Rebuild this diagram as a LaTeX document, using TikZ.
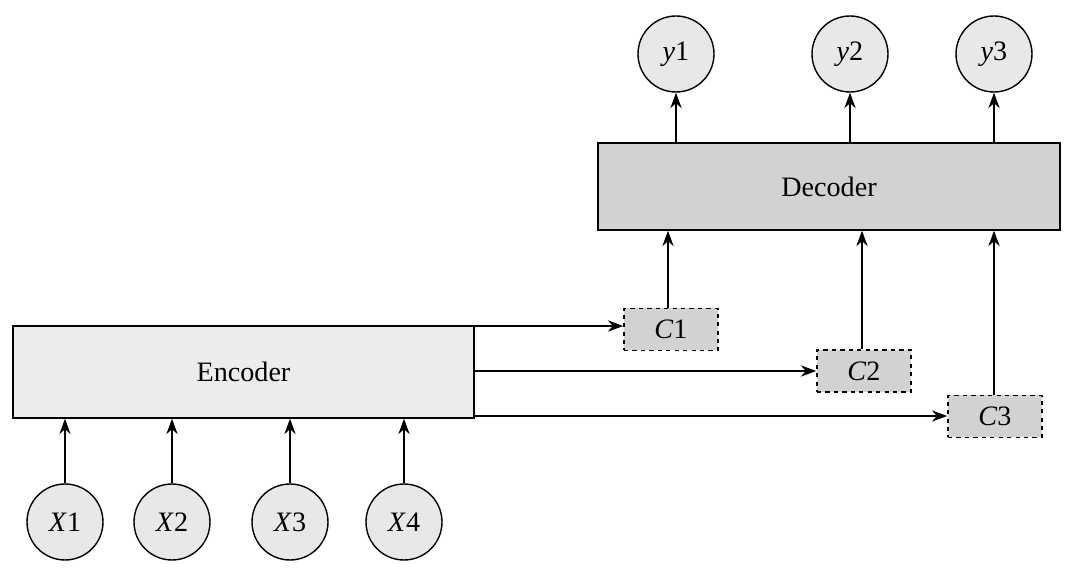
\documentclass[tikz,border=0pt]{standalone}
\usepackage{fontspec}
\setmainfont{Liberation Serif}
\usetikzlibrary{arrows.meta}
\begin{document}
\begin{tikzpicture}[x=0.025cm,y=-0.025cm,
  every node/.style={font=\fontsize{20}{24}\selectfont},
  circ/.style={circle,draw,line width=1pt,fill=gray!18,minimum size=76*0.025cm,inner sep=0pt},
  cbox/.style={draw,dashed,line width=1pt,fill=gray!35,minimum width=94*0.025cm,minimum height=42*0.025cm,inner sep=0pt},
  arr/.style={-{Stealth[length=11pt,width=8pt]},line width=1pt}]
\useasboundingbox (0,0) rectangle (1073,576);
\node[draw,line width=1pt,fill=gray!15,minimum width=461*0.025cm,minimum height=92*0.025cm] (enc) at (243.5,372) {Encoder};
\node[draw,line width=1pt,fill=gray!35,minimum width=462*0.025cm,minimum height=87*0.025cm] (dec) at (829,186.5) {Decoder};
\foreach \i/\x in {1/65,2/172,3/290,4/404}{
  \node[circ] (x\i) at (\x,522) {\textit{X}\i};
  \draw[arr] (x\i) -- (x\i|-enc.south);
}
\foreach \i/\x in {1/676,2/850,3/994}{
  \node[circ] (y\i) at (\x,54) {\textit{y}\i};
  \draw[arr] (dec.north-|y\i) -- (y\i);
}
\node[cbox] (c1) at (671,329.5) {\textit{C}1};
\node[cbox] (c2) at (864,371) {\textit{C}2};
\node[cbox] (c3) at (995,416.5) {\textit{C}3};
\coordinate (e1) at (474,326);
\coordinate (e2) at (474,371);
\coordinate (e3) at (474,416);
\draw[arr] (e1) -- (c1.west|-e1);
\draw[arr] (e2) -- (c2.west|-e2);
\draw[arr] (e3) -- (c3.west|-e3);
\draw[arr] (c1.north-|668,0) -- (dec.south-|668,0);
\draw[arr] (c2.north-|862,0) -- (dec.south-|862,0);
\draw[arr] (c3.north-|994,0) -- (dec.south-|994,0);
\end{tikzpicture}
\end{document}
